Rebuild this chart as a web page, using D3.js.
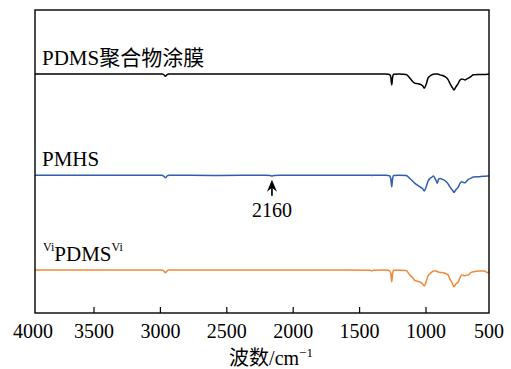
<!DOCTYPE html>
<html>
<head>
<meta charset="utf-8">
<script src="https://cdn.jsdelivr.net/npm/d3@7"></script>
<style>
  body { margin: 0; background: #fff; }
  svg text { font-family: "Liberation Serif", "Times New Roman", "Noto Sans CJK SC", serif; fill: #000; }
</style>
</head>
<body>
<div id="ftir"></div>
<script>
// FTIR spectra, wavenumber grid shared by the three traces (cm-1)
const wavenumbers = [3950, 3500, 3100, 2990, 2975, 2962, 2950, 2935, 2600, 2200, 2175, 2160, 2145, 2100,
  1700, 1420, 1409, 1398, 1300, 1275, 1265, 1258, 1252, 1244, 1200, 1150, 1121, 1100, 1083, 1065,
  1045, 1025, 1013, 1000, 985, 970, 957, 945, 925, 915, 905, 895, 870, 857, 835, 820, 800, 790,
  775, 757, 745, 731, 718, 706, 695, 681, 660, 644, 600, 560, 540, 531, 522];

// transmittance (a.u., stacked)
const pdmsCoating = [78.9, 78.9, 78.9, 78.9, 78.7, 78.1, 78.7, 78.9, 78.9, 78.9, 78.9, 78.9, 78.9, 78.9,
  78.9, 78.9, 78.9, 78.9, 78.9, 78.7, 77.9, 75.3, 77.6, 78.8, 78.9, 78.7, 77.5, 76.4, 75.8, 75.7,
  75.5, 75.0, 74.2, 75.3, 77.5, 78.2, 78.6, 78.8, 78.9, 78.9, 78.8, 78.6, 78.3, 78.0, 77.1, 75.8, 74.3, 73.6,
  74.6, 75.8, 76.8, 77.2, 77.1, 76.9, 77.2, 77.5, 78.1, 78.6, 78.7, 78.7, 78.8, 78.8, 78.9];

const pmhs = [45.5, 45.5, 45.5, 45.5, 45.2, 44.6, 45.2, 45.5, 45.4, 45.5, 45.4, 45.2, 45.4, 45.5,
  45.5, 45.5, 45.4, 45.5, 45.5, 45.3, 44.3, 41.6, 44.2, 45.4, 45.5, 45.4, 44.4, 43.5, 42.8, 42.2,
  41.6, 41.0, 40.3, 41.5, 43.5, 44.4, 44.8, 45.2, 43.8, 42.8, 44.2, 44.4, 44.0, 43.7, 42.7, 41.6, 40.5, 39.8,
  40.7, 41.6, 42.7, 43.3, 43.1, 43.0, 43.5, 44.1, 44.5, 44.9, 45.0, 45.1, 45.2, 45.2, 45.2];

const viPdmsVi = [14.2, 14.2, 14.2, 14.2, 13.9, 13.3, 13.9, 14.2, 14.2, 14.2, 14.2, 14.2, 14.2, 14.2,
  14.2, 14.1, 13.9, 14.1, 14.2, 14.0, 13.0, 10.3, 12.9, 14.1, 14.1, 14.0, 12.5, 11.6, 10.7, 10.5,
  10.2, 9.6, 8.9, 10.2, 12.2, 12.9, 13.5, 13.9, 13.9, 13.7, 13.5, 13.4, 13.3, 13.1, 12.6, 11.2, 9.7, 8.7,
  9.6, 10.3, 11.6, 12.6, 12.4, 12.3, 12.5, 12.6, 13.4, 13.6, 13.9, 13.9, 13.4, 13.4, 14.0];

const xTicks = [4000, 3500, 3000, 2500, 2000, 1500, 1000, 500];
const markedPeak = 2160;

const WIDTH = 511;
const HEIGHT = 369;
const FRAME = { left: 35, right: 489, top: 10, bottom: 313 };

const x = d3.scaleLinear().domain([4000, 500]).range([27.6, 492.4]);
const y = d3.scaleLinear().domain([0, 100]).range([FRAME.bottom, FRAME.top]);

const series = [
  { name: "pdms", values: pdmsCoating, color: "#000000", base: 78.9 },
  { name: "pmhs", values: pmhs, color: "#2f5eae", base: 45.5 },
  { name: "vi", values: viPdmsVi, color: "#f0883a", base: 14.2 }
];

const svg = d3.select("#ftir").append("svg")
  .attr("width", WIDTH)
  .attr("height", HEIGHT);

svg.append("clipPath").attr("id", "plot-clip")
  .append("rect")
  .attr("x", FRAME.left).attr("y", FRAME.top)
  .attr("width", FRAME.right - FRAME.left).attr("height", FRAME.bottom - FRAME.top);

const line = d3.line()
  .x((d, i) => x(wavenumbers[i]))
  .y(d => y(d))
  .curve(d3.curveMonotoneX);

svg.append("g")
  .attr("clip-path", "url(#plot-clip)")
  .selectAll("path")
  .data(series)
  .join("path")
  .attr("fill", "none")
  .attr("stroke", d => d.color)
  .attr("stroke-width", 1.5)
  .attr("stroke-linejoin", "round")
  .attr("d", d => line(d.values));

// frame
svg.append("rect")
  .attr("x", FRAME.left).attr("y", FRAME.top)
  .attr("width", FRAME.right - FRAME.left).attr("height", FRAME.bottom - FRAME.top)
  .attr("fill", "none")
  .attr("stroke", "#000")
  .attr("stroke-width", 1.4);

// x axis: inner ticks, end labels kept inside the frame
const axis = svg.append("g")
  .attr("transform", `translate(0,${FRAME.bottom})`)
  .call(d3.axisBottom(x).tickValues(xTicks).tickSize(-6).tickPadding(0).tickFormat(d3.format("d")));
axis.select(".domain").remove();
axis.selectAll(".tick line")
  .attr("stroke", "#000")
  .attr("stroke-width", 1.2)
  .attr("display", d => (d === 4000 || d === 500) ? "none" : null);
axis.selectAll(".tick")
  .attr("transform", d => `translate(${Math.min(Math.max(x(d), FRAME.left - 2), FRAME.right)},0)`);
axis.selectAll(".tick text")
  .attr("y", 25)
  .attr("dy", 0)
  .style("font-size", "20px")
  .attr("fill", "#000");

const title = svg.append("text")
  .attr("x", 271)
  .attr("y", 365)
  .attr("text-anchor", "middle")
  .style("font-size", "20px");
title.append("tspan").text("波数/cm");
title.append("tspan").attr("dy", -8).style("font-size", "13px").text("−1");

// series labels
const lbl = (s) => y(s.base) - 9;
svg.append("text").attr("x", 42).attr("y", lbl(series[0]))
  .style("font-size", "21px").text("PDMS聚合物涂膜");
svg.append("text").attr("x", 42).attr("y", lbl(series[1]))
  .style("font-size", "21px").text("PMHS");
const vi = svg.append("text").attr("x", 43).attr("y", lbl(series[2]))
  .style("font-size", "21px");
vi.append("tspan").attr("dy", -10).style("font-size", "12px").text("Vi");
vi.append("tspan").attr("dy", 10).text("PDMS");
vi.append("tspan").attr("dy", -10).style("font-size", "12px").text("Vi");

// 2160 annotation
const ax = x(markedPeak);
const ay = y(45.0);
svg.append("line")
  .attr("x1", ax).attr("x2", ax)
  .attr("y1", ay + 9).attr("y2", ay + 19)
  .attr("stroke", "#000").attr("stroke-width", 1.7);
svg.append("path")
  .attr("d", `M${ax},${ay + 3} L${ax - 5},${ay + 15} L${ax},${ay + 11} L${ax + 5},${ay + 15} Z`)
  .attr("fill", "#000");
svg.append("text")
  .attr("x", ax).attr("y", ay + 40)
  .attr("text-anchor", "middle")
  .style("font-size", "20px")
  .text(markedPeak);
</script>
</body>
</html>
